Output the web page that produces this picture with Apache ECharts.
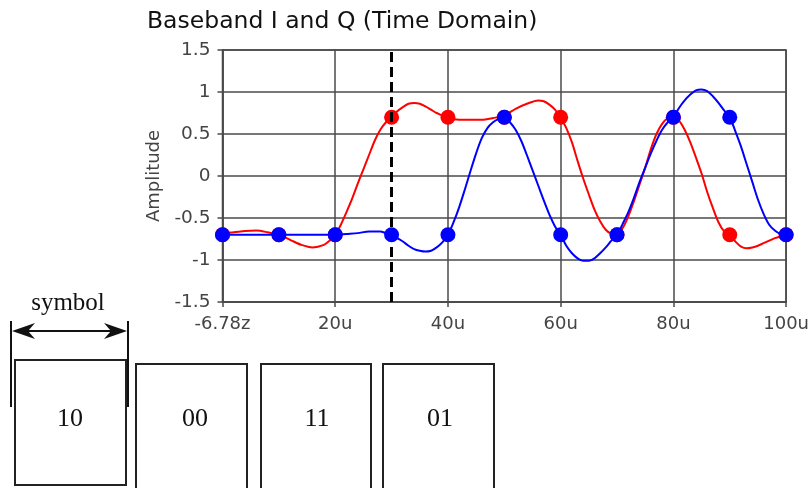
<!DOCTYPE html>
<html>
<head>
<meta charset="utf-8">
<script src="https://cdn.jsdelivr.net/npm/echarts@6/dist/echarts.min.js"></script>
<style>html,body{margin:0;padding:0;background:#fff;}#c{width:812px;height:488px;}</style>
</head>
<body>
<div id="c"></div>
<script>
// Time in micro-seconds (u)
const iTime = [0,2,4,6,8,10,12,14,16,18,19,20,21,22,23,24,25,26,27,28,29,30,31,32,33,34,35,36,37,38,40,42,44,46,48,50,52,54,56,57,58,59,60,61,62,63,64,65,66,67,68,69,70,71,72,73,74,75,76,77,78,79,80,81,82,83,84,85,86,87,88,89,90,91,92,93,94,95,96,97,98,99,100];
const iValues = [-0.68,-0.67,-0.655,-0.65,-0.67,-0.70,-0.76,-0.82,-0.85,-0.82,-0.77,-0.70,-0.58,-0.43,-0.27,-0.09,0.08,0.25,0.42,0.55,0.64,0.70,0.77,0.82,0.86,0.87,0.86,0.83,0.79,0.75,0.69,0.67,0.67,0.67,0.69,0.72,0.80,0.86,0.90,0.89,0.85,0.79,0.69,0.57,0.40,0.18,-0.03,-0.22,-0.40,-0.54,-0.64,-0.69,-0.70,-0.62,-0.48,-0.30,-0.10,0.10,0.32,0.50,0.62,0.69,0.71,0.66,0.55,0.40,0.22,0.03,-0.19,-0.38,-0.55,-0.66,-0.70,-0.78,-0.84,-0.86,-0.85,-0.83,-0.80,-0.77,-0.74,-0.72,-0.70];
const qTime = [0,5,10,15,20,22,24,26,28,29,30,31,32,33,34,35,36,37,38,39,40,41,42,43,44,45,46,47,48,49,50,51,52,53,54,55,56,57,58,59,60,61,62,63,64,65,66,67,68,69,70,71,72,73,74,75,76,77,78,79,80,81,82,83,84,85,86,87,88,89,90,91,92,93,94,95,96,97,98,99,100];
const qValues = [-0.70,-0.70,-0.70,-0.70,-0.70,-0.69,-0.68,-0.66,-0.66,-0.68,-0.70,-0.74,-0.78,-0.83,-0.87,-0.89,-0.90,-0.89,-0.85,-0.79,-0.70,-0.55,-0.37,-0.16,0.06,0.27,0.45,0.57,0.64,0.68,0.70,0.64,0.55,0.42,0.25,0.07,-0.11,-0.29,-0.46,-0.60,-0.70,-0.83,-0.92,-0.98,-1.01,-1.01,-0.98,-0.92,-0.85,-0.77,-0.70,-0.57,-0.43,-0.26,-0.07,0.10,0.27,0.42,0.55,0.64,0.70,0.81,0.90,0.97,1.02,1.03,1.01,0.95,0.87,0.78,0.70,0.53,0.35,0.14,-0.07,-0.28,-0.45,-0.58,-0.65,-0.69,-0.70];
const symbolTimes = [0,10,20,30,40,50,60,70,80,90,100];
const iSymbols = [-0.7,-0.7,-0.7,0.7,0.7,0.7,0.7,-0.7,0.7,-0.7,-0.7];
const qSymbols = [-0.7,-0.7,-0.7,-0.7,-0.7,0.7,-0.7,-0.7,0.7,0.7,-0.7];
const xTickLabels = ['-6.78z','20u','40u','60u','80u','100u'];
const markerTime = 30;
const bitLabels = ['10','00','11','01'];

const zip = (a,b) => a.map((v,i)=>[v,b[i]]);
const chart = echarts.init(document.getElementById('c'), null, {renderer:'canvas'});
const gridColor = '#4a4a4a';
const labelFont = 'DejaVu Sans';

const boxes = [
  {x:15, y:360, w:111, h:125, tx:70},
  {x:136, y:364, w:111, h:130, tx:195},
  {x:261, y:364, w:110, h:130, tx:317},
  {x:383, y:364, w:111, h:130, tx:440}
];
const graphics = [];
boxes.forEach((b,i)=>{
  graphics.push({type:'rect', shape:{x:b.x,y:b.y,width:b.w,height:b.h}, style:{fill:'#fff', stroke:'#222', lineWidth:2}});
  graphics.push({type:'text', x:b.tx, y:419, style:{text:bitLabels[i], font:'26px "Liberation Serif"', fill:'#111', align:'center', verticalAlign:'middle'}});
});
graphics.push({type:'line', shape:{x1:11,y1:321,x2:11,y2:407}, style:{stroke:'#111', lineWidth:2}});
graphics.push({type:'line', shape:{x1:128,y1:321,x2:128,y2:407}, style:{stroke:'#111', lineWidth:2}});
graphics.push({type:'line', shape:{x1:20,y1:331,x2:120,y2:331}, style:{stroke:'#111', lineWidth:2}});
graphics.push({type:'polygon', shape:{points:[[12,331],[35,323],[28,331],[35,339]]}, style:{fill:'#111'}});
graphics.push({type:'polygon', shape:{points:[[127,331],[104,323],[111,331],[104,339]]}, style:{fill:'#111'}});
graphics.push({type:'text', x:68, y:303, style:{text:'symbol', font:'25px "Liberation Serif"', fill:'#111', align:'center', verticalAlign:'middle'}});

chart.setOption({
  animation:false,
  backgroundColor:'#fff',
  title:{text:'Baseband I and Q (Time Domain)', left:142, top:5, textStyle:{fontFamily:labelFont, fontSize:23.5, fontWeight:'normal', color:'#111'}},
  grid:{left:222.5, right:19, top:50, bottom:186, show:true, borderColor:gridColor, borderWidth:1.5, backgroundColor:'transparent'},
  xAxis:{type:'value', min:0, max:100, interval:20,
    axisLine:{show:true, onZero:false, lineStyle:{color:gridColor, width:1.5}},
    axisTick:{show:true, length:5, lineStyle:{color:gridColor, width:1.5}},
    splitLine:{show:true, lineStyle:{color:gridColor, width:1.5}},
    axisLabel:{margin:13, color:'#444', fontFamily:labelFont, fontSize:18, showMinLabel:true, showMaxLabel:true, formatter:(v)=>xTickLabels[Math.round(v/20)]}
  },
  yAxis:{type:'value', min:-1.5, max:1.5, interval:0.5,
    name:'Amplitude', nameLocation:'middle', nameGap:53, nameTextStyle:{fontFamily:labelFont, fontSize:18, color:'#444'},
    axisLine:{show:true, onZero:false, lineStyle:{color:gridColor, width:1.5}},
    axisTick:{show:true, length:5, lineStyle:{color:gridColor, width:1.5}},
    splitLine:{show:true, lineStyle:{color:gridColor, width:1.5}},
    axisLabel:{margin:12, color:'#444', fontFamily:labelFont, fontSize:18.5, formatter:v=>String(v)}
  },
  series:[
    {type:'line', name:'I', data:zip(iTime,iValues), smooth:0.3, showSymbol:false, lineStyle:{color:'#ff0000', width:2}, z:2,
      markLine:{silent:true, symbol:['none','none'], label:{show:false}, lineStyle:{color:'#000', type:[10,5], width:3}, data:[{xAxis:markerTime}]}},
    {type:'scatter', name:'I sym', data:zip(symbolTimes,iSymbols), symbol:'circle', symbolSize:15, itemStyle:{color:'#ff0000', opacity:1}, z:3},
    {type:'line', name:'Q', data:zip(qTime,qValues), smooth:0.3, showSymbol:false, lineStyle:{color:'#0000ff', width:2}, z:4},
    {type:'scatter', name:'Q sym', data:zip(symbolTimes,qSymbols), symbol:'circle', symbolSize:15, itemStyle:{color:'#0000ff', opacity:1}, z:5}
  ],
  graphic:graphics
});
</script>
</body>
</html>
